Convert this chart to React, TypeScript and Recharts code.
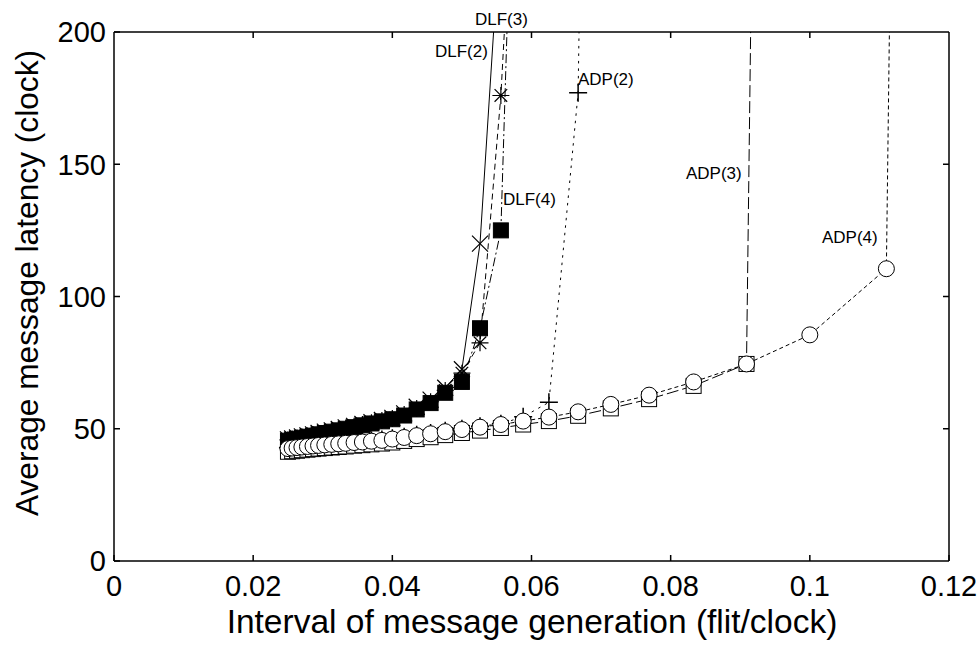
import React from 'react';
import { LineChart, Line, XAxis, YAxis } from 'recharts';

const FONT = '"Liberation Sans", Arial, Helvetica, sans-serif';

// tick labels
const xTicks = [0, 0.02, 0.04, 0.06, 0.08, 0.1, 0.12];
const yTicks = [0, 50, 100, 150, 200];
const innerXTicks = [0.02, 0.04, 0.06, 0.08, 0.1];
const innerYTicks = [50, 100, 150];

// interval of message generation (flit/clock)
const intervals = [
  0.025, 0.0256, 0.0263, 0.027, 0.0278, 0.0286, 0.0294, 0.0303, 0.0313, 0.0323,
  0.0333, 0.0345, 0.0357, 0.037, 0.0385, 0.04, 0.0417, 0.0435, 0.0455, 0.0476,
  0.05, 0.0526, 0.0556, 0.0588, 0.0625, 0.0667, 0.0714, 0.0769, 0.0833, 0.0909,
  0.1, 0.111, 0.125,
];

// average message latency (clock) per series
const dlf2Latency = [
  46.0, 46.3, 46.7, 47.1, 47.5, 47.9, 48.4, 48.9, 49.4, 49.9,
  50.5, 51.1, 51.8, 52.5, 53.3, 54.1, 55.8, 58.3, 61.0, 65.5,
  72.5, 120, 243,
];
const dlf3Latency = [
  45.8, 46.1, 46.5, 46.9, 47.3, 47.7, 48.2, 48.7, 49.2, 49.7,
  50.3, 50.9, 51.6, 52.3, 53.1, 53.9, 55.4, 57.7, 60.2, 64.5,
  71.0, 82.5, 176, 330,
];
const dlf4Latency = [
  45.5, 45.8, 46.2, 46.6, 47.0, 47.4, 47.9, 48.4, 48.9, 49.4,
  50.0, 50.6, 51.3, 52.0, 52.8, 53.6, 55.0, 57.3, 59.7, 63.6,
  67.7, 88, 125, 400,
];
const adp2Latency = [
  42.8, 43.0, 43.2, 43.4, 43.6, 43.8, 44.0, 44.2, 44.4, 44.6,
  44.8, 45.1, 45.3, 45.6, 45.9, 46.4, 47.0, 47.7, 48.4, 49.2,
  50.0, 50.9, 51.9, 54.5, 60.0, 177, 1000,
];
const adp3Latency = [
  41.3, 41.5, 41.7, 41.9, 42.1, 42.3, 42.5, 42.7, 42.9, 43.1,
  43.3, 43.6, 43.8, 44.1, 44.4, 44.8, 45.4, 46.1, 46.8, 47.6,
  48.4, 49.3, 50.3, 51.6, 52.9, 54.9, 57.7, 61.2, 66.2, 74.5,
  2000,
];
const adp4Latency = [
  42.5, 42.7, 42.9, 43.1, 43.3, 43.5, 43.7, 43.9, 44.1, 44.3,
  44.5, 44.8, 45.0, 45.3, 45.6, 46.1, 46.7, 47.4, 48.1, 48.9,
  49.7, 50.6, 51.6, 52.9, 54.4, 56.4, 59.2, 62.7, 67.7, 74.5,
  85.5, 110.5, 3000,
];

const zip = (ys: number[]) => ys.map((y, i) => ({ x: intervals[i], y }));

const dlf2 = zip(dlf2Latency);
const dlf3 = zip(dlf3Latency);
const dlf4 = zip(dlf4Latency);
const adp2 = zip(adp2Latency);
const adp3 = zip(adp3Latency);
const adp4 = zip(adp4Latency);

const K = '#000';

const ok = (p: any) => p && typeof p.cx === 'number' && typeof p.cy === 'number' && isFinite(p.cx) && isFinite(p.cy);

const dotCross = (p: any) => {
  if (!ok(p)) return <g key={`c${p.index}`} />;
  const { cx, cy } = p;
  const h = 8;
  return (
    <path key={`c${p.index}`} d={`M${cx - h},${cy - h}L${cx + h},${cy + h}M${cx - h},${cy + h}L${cx + h},${cy - h}`}
      stroke={K} strokeWidth={1.2} fill="none" />
  );
};

const dotStar = (p: any) => {
  if (!ok(p)) return <g key={`s${p.index}`} />;
  const { cx, cy } = p;
  const h = 8.5;
  const d = 6.3;
  return (
    <path key={`s${p.index}`}
      d={`M${cx - h},${cy}L${cx + h},${cy}M${cx},${cy - h}L${cx},${cy + h}M${cx - d},${cy - d}L${cx + d},${cy + d}M${cx - d},${cy + d}L${cx + d},${cy - d}`}
      stroke={K} strokeWidth={1.2} fill="none" />
  );
};

const dotFilledSquare = (p: any) => {
  if (!ok(p)) return <g key={`f${p.index}`} />;
  const { cx, cy } = p;
  const h = 7.5;
  return <rect key={`f${p.index}`} x={cx - h} y={cy - h} width={2 * h} height={2 * h} fill={K} stroke={K} strokeWidth={1} />;
};

const dotPlus = (p: any) => {
  if (!ok(p)) return <g key={`p${p.index}`} />;
  const { cx, cy } = p;
  const h = 9;
  return (
    <path key={`p${p.index}`} d={`M${cx - h},${cy}L${cx + h},${cy}M${cx},${cy - h}L${cx},${cy + h}`}
      stroke={K} strokeWidth={1.5} fill="none" />
  );
};

const dotSquare = (p: any) => {
  if (!ok(p)) return <g key={`q${p.index}`} />;
  const { cx, cy } = p;
  const h = 7.5;
  return <rect key={`q${p.index}`} x={cx - h} y={cy - h} width={2 * h} height={2 * h} fill="#fff" stroke={K} strokeWidth={1} />;
};

const dotCircle = (p: any) => {
  if (!ok(p)) return <g key={`o${p.index}`} />;
  const { cx, cy } = p;
  return <circle key={`o${p.index}`} cx={cx} cy={cy} r={8} fill="#fff" stroke={K} strokeWidth={1} />;
};

const noLabel = (p: any) => <g key={`n${p.index}`} />;

const tickStyle = { fontSize: 29, fill: '#000', fontFamily: FONT };
const frame = { stroke: '#000', strokeWidth: 1.5 };

const annotations = [
  { text: 'DLF(3)', x: 475, y: 25 },
  { text: 'DLF(2)', x: 435, y: 57 },
  { text: 'DLF(4)', x: 503, y: 205 },
  { text: 'ADP(2)', x: 578, y: 85 },
  { text: 'ADP(3)', x: 686, y: 179 },
  { text: 'ADP(4)', x: 822, y: 243 },
];

export default function App() {
  return (
    <div style={{ position: 'absolute', left: 0, top: 0, width: 980, height: 656, background: '#fff' }}>
      <LineChart width={980} height={656} margin={{ top: 32, right: 31, bottom: 0, left: 0 }}>
        <XAxis xAxisId="main" dataKey="x" type="number" domain={[0, 0.12]} ticks={xTicks} interval={0}
          allowDataOverflow height={95} tickLine={frame} tickSize={-6} tickMargin={20}
          axisLine={frame} tick={tickStyle} />
        <XAxis xAxisId="tm" orientation="top" dataKey="x" type="number" domain={[0, 0.12]} ticks={innerXTicks} interval={0}
          allowDataOverflow mirror height={1} tick={noLabel} axisLine={frame} tickLine={frame} tickSize={6} />
        <YAxis yAxisId="main" type="number" domain={[0, 200]} ticks={yTicks} interval={0}
          allowDataOverflow width={114} tickLine={frame} tickSize={-6} tickMargin={14}
          axisLine={frame} tick={tickStyle} />
        <YAxis yAxisId="rm" orientation="right" type="number" domain={[0, 200]} ticks={innerYTicks} interval={0}
          allowDataOverflow mirror width={1} tick={noLabel} axisLine={frame} tickLine={frame} tickSize={6} />

        {/* invisible series tying the top/right frame axes to the same data */}
        <Line xAxisId="tm" yAxisId="rm" data={dlf4} dataKey="y" stroke="none" dot={false}
          activeDot={false} isAnimationActive={false} />

        <Line xAxisId="main" yAxisId="main" data={dlf2} dataKey="y" stroke={K} strokeWidth={1}
          dot={dotCross} activeDot={false} isAnimationActive={false} />
        <Line xAxisId="main" yAxisId="main" data={dlf3} dataKey="y" stroke={K} strokeWidth={1}
          strokeDasharray="6 4" dot={dotStar} activeDot={false} isAnimationActive={false} />
        <Line xAxisId="main" yAxisId="main" data={dlf4} dataKey="y" stroke={K} strokeWidth={1}
          strokeDasharray="9 3 2 3" dot={dotFilledSquare} activeDot={false} isAnimationActive={false} />
        <Line xAxisId="main" yAxisId="main" data={adp2} dataKey="y" stroke={K} strokeWidth={1}
          strokeDasharray="2.5 5" dot={dotPlus} activeDot={false} isAnimationActive={false} />
        <Line xAxisId="main" yAxisId="main" data={adp3} dataKey="y" stroke={K} strokeWidth={1}
          strokeDasharray="12 4" dot={dotSquare} activeDot={false} isAnimationActive={false} />
        <Line xAxisId="main" yAxisId="main" data={adp4} dataKey="y" stroke={K} strokeWidth={1}
          strokeDasharray="4 3" dot={dotCircle} activeDot={false} isAnimationActive={false} />
      </LineChart>
      <svg width={980} height={656} style={{ position: 'absolute', left: 0, top: 0, pointerEvents: 'none' }}>
        {annotations.map((a) => (
          <text key={a.text} x={a.x} y={a.y} fontSize={17} fontFamily={FONT} fill="#000">{a.text}</text>
        ))}
        <text x={532} y={633} fontSize={33.5} fontFamily={FONT} fill="#000" textAnchor="middle">
          Interval of message generation (flit/clock)
        </text>
        <text transform="translate(38,283) rotate(-90)" x={0} y={0} fontSize={31.7} fontFamily={FONT} fill="#000" textAnchor="middle">
          Average message latency (clock)
        </text>
      </svg>
    </div>
  );
}
